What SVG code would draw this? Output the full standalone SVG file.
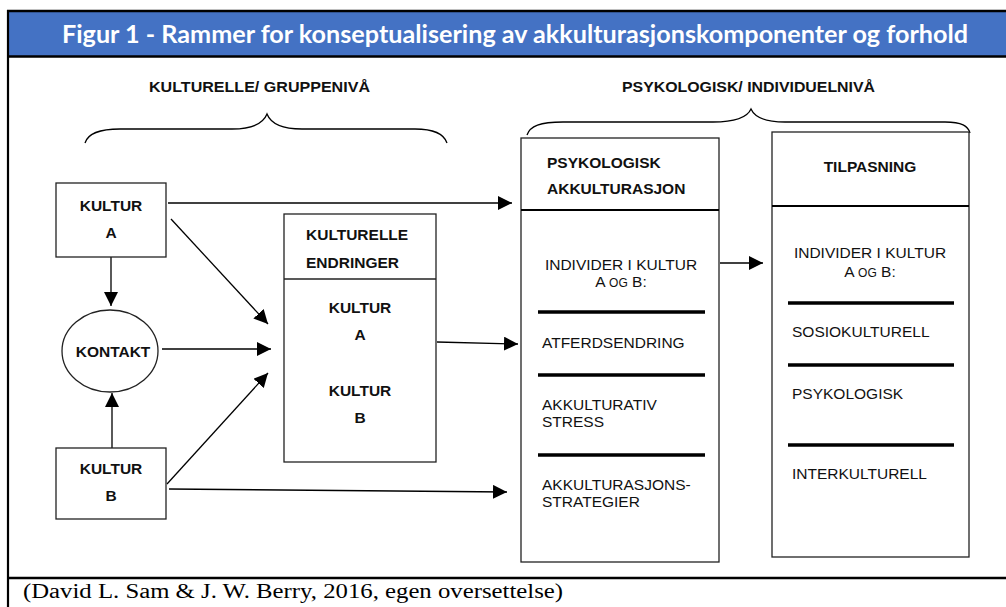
<svg xmlns="http://www.w3.org/2000/svg" width="1006" height="607" viewBox="0 0 1006 607">
<style>
.box{fill:#fff;stroke:#222;stroke-width:1.3}
.b{font-family:"Liberation Sans",Arial,sans-serif;font-weight:bold;font-size:15.5px;fill:#111}
.r{font-family:"Liberation Sans",Arial,sans-serif;font-size:15.5px;fill:#111}
.bar{stroke:#000;stroke-width:3.5}
.con{stroke:#000;stroke-width:1.3;fill:none}
.brace{stroke:#000;stroke-width:1.3;fill:none}
</style>
<defs>
<marker id="ah" markerUnits="userSpaceOnUse" markerWidth="15" markerHeight="14" refX="14" refY="7" orient="auto">
<path d="M0,0 L14,7 L0,14 z" fill="#000"/>
</marker>
</defs>
<rect width="1006" height="607" fill="#fff"/>
<!-- frame -->
<g id="frame">
<rect x="8" y="11" width="1000" height="45" fill="#4472c4"/>
<line x1="7" y1="11" x2="1006" y2="11" stroke="#000" stroke-width="2.5"/>
<line x1="7" y1="56.5" x2="1006" y2="56.5" stroke="#000" stroke-width="2.5"/>
<line x1="8" y1="10" x2="8" y2="607" stroke="#000" stroke-width="2.2"/>
<line x1="7" y1="578" x2="1006" y2="578" stroke="#000" stroke-width="2.5"/>
<text x="62" y="43" font-family="Lato,'Open Sans',sans-serif" font-weight="bold" font-size="24" fill="#fff" textLength="906" lengthAdjust="spacingAndGlyphs">Figur 1 - Rammer for konseptualisering av akkulturasjonskomponenter og forhold</text>
<text x="23" y="598" font-family="'Liberation Serif','Times New Roman',serif" font-size="20" fill="#000" textLength="540" lengthAdjust="spacingAndGlyphs">(David L. Sam &amp; J. W. Berry, 2016, egen oversettelse)</text>
</g>
<!-- headers -->
<g id="header-left">
<text class="b" x="149" y="92" font-size="14" textLength="221" lengthAdjust="spacingAndGlyphs">KULTURELLE/ GRUPPENIVÅ</text>
<path class="brace" d="M85,143 C88,133 100,129 120,129 L232,129 C252,129 263,124 267,114 C271,124 282,129 302,129 L415,129 C435,129 444,134 447,143"/>
</g>
<g id="header-right">
<text class="b" x="622" y="92" font-size="14" textLength="253" lengthAdjust="spacingAndGlyphs">PSYKOLOGISK/ INDIVIDUELNIVÅ</text>
<path class="brace" d="M527,135 C530,126 540,122 563,122 L713,122 C735,122 747,118 751,109 C755,118 767,122 785,122 L945,122 C962,122 968,126 970,133"/>
</g>
<!-- connectors -->
<g id="connectors">
<line class="con" x1="111" y1="257" x2="111" y2="306" marker-end="url(#ah)"/>
<line class="con" x1="112" y1="448" x2="112" y2="393" marker-end="url(#ah)"/>
<line class="con" x1="168" y1="203" x2="512" y2="203" marker-end="url(#ah)"/>
<line class="con" x1="171" y1="219" x2="268" y2="324" marker-end="url(#ah)"/>
<line class="con" x1="162" y1="349" x2="271" y2="349" marker-end="url(#ah)"/>
<line class="con" x1="167" y1="484" x2="268" y2="373" marker-end="url(#ah)"/>
<line class="con" x1="169" y1="489" x2="507" y2="492" marker-end="url(#ah)"/>
<line class="con" x1="437" y1="342" x2="518" y2="344" marker-end="url(#ah)"/>
<line class="con" x1="720" y1="263" x2="763" y2="263" marker-end="url(#ah)"/>
</g>
<!-- nodes -->
<g id="kultur-a">
<rect class="box" x="56" y="183" width="110" height="74"/>
<text class="b" x="111" y="211" text-anchor="middle">KULTUR</text>
<text class="b" x="111" y="238" text-anchor="middle">A</text>
</g>
<g id="kontakt">
<ellipse class="box" cx="110" cy="351" rx="48" ry="41"/>
<text class="b" x="113" y="357" text-anchor="middle">KONTAKT</text>
</g>
<g id="kultur-b">
<rect class="box" x="56" y="448" width="110" height="71"/>
<text class="b" x="111" y="474" text-anchor="middle">KULTUR</text>
<text class="b" x="111" y="501" text-anchor="middle">B</text>
</g>
<g id="kulturelle-endringer">
<rect class="box" x="284" y="214" width="152" height="248"/>
<line x1="284" y1="279" x2="436" y2="279" stroke="#222" stroke-width="1.3"/>
<text class="b" x="306" y="240">KULTURELLE</text>
<text class="b" x="306" y="268">ENDRINGER</text>
<text class="b" x="360" y="313" text-anchor="middle">KULTUR</text>
<text class="b" x="360" y="340" text-anchor="middle">A</text>
<text class="b" x="360" y="396" text-anchor="middle">KULTUR</text>
<text class="b" x="360" y="423" text-anchor="middle">B</text>
</g>
<g id="psykologisk-akkulturasjon">
<rect class="box" x="521" y="138" width="198" height="424"/>
<line x1="521" y1="210" x2="719" y2="210" stroke="#000" stroke-width="2.2"/>
<text class="b" x="547" y="168">PSYKOLOGISK</text>
<text class="b" x="547" y="194">AKKULTURASJON</text>
<text class="r" x="621" y="270" text-anchor="middle">INDIVIDER I KULTUR</text>
<text class="r" x="621" y="287" text-anchor="middle">A <tspan font-size="12">OG</tspan> B:</text>
<line class="bar" x1="538" y1="312" x2="705" y2="312"/>
<text class="r" x="542" y="348">ATFERDSENDRING</text>
<line class="bar" x1="538" y1="375" x2="705" y2="375"/>
<text class="r" x="542" y="410">AKKULTURATIV</text>
<text class="r" x="542" y="427">STRESS</text>
<line class="bar" x1="538" y1="455" x2="705" y2="455"/>
<text class="r" x="542" y="490">AKKULTURASJONS-</text>
<text class="r" x="542" y="507">STRATEGIER</text>
</g>
<g id="tilpasning">
<rect class="box" x="772" y="132" width="197" height="425"/>
<line x1="772" y1="206" x2="969" y2="206" stroke="#000" stroke-width="2.2"/>
<text class="b" x="870" y="172" text-anchor="middle">TILPASNING</text>
<text class="r" x="870" y="258" text-anchor="middle">INDIVIDER I KULTUR</text>
<text class="r" x="870" y="277" text-anchor="middle">A <tspan font-size="12">OG</tspan> B:</text>
<line class="bar" x1="788" y1="303" x2="954" y2="303"/>
<text class="r" x="792" y="337">SOSIOKULTURELL</text>
<line class="bar" x1="788" y1="365" x2="954" y2="365"/>
<text class="r" x="792" y="399">PSYKOLOGISK</text>
<line class="bar" x1="788" y1="445" x2="954" y2="445"/>
<text class="r" x="792" y="479">INTERKULTURELL</text>
</g>
</svg>
